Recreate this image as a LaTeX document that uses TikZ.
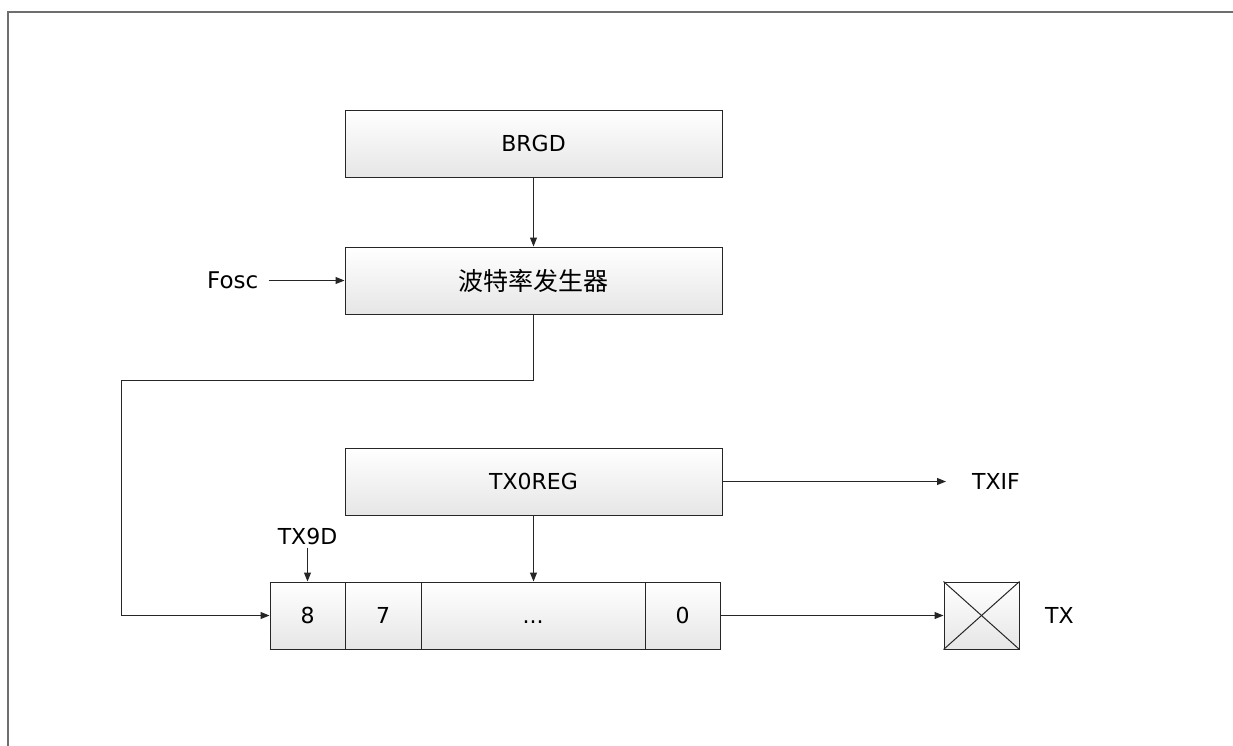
\documentclass[tikz,border=0pt]{standalone}
\usepackage{fontspec}
\setmainfont{DejaVu Sans}
\newfontfamily\cjk{Noto Sans CJK SC}
\usetikzlibrary{arrows.meta}
\definecolor{linec}{HTML}{262626}
\definecolor{framec}{HTML}{6E6E6E}
\definecolor{boxbot}{HTML}{E6E6E6}
\tikzset{
  lab/.style={font=\fontsize{22}{26}\selectfont, inner sep=2pt},
  blk/.style={draw=linec, line width=1pt, top color=white, bottom color=boxbot,
    minimum width=377pt, minimum height=67pt, inner sep=0pt,
    font=\fontsize{22}{26}\selectfont},
  cell/.style={draw=linec, line width=1pt, top color=white, bottom color=boxbot,
    minimum height=67pt, inner sep=0pt, font=\fontsize{22}{26}\selectfont},
  arr/.style={draw=linec, line width=1pt, -{Triangle[length=9pt,width=7pt]}},
  conn/.style={draw=linec, line width=1pt},
}
\begin{document}
\begin{tikzpicture}[x=1pt,y=-1pt]
\useasboundingbox (0,0) rectangle (1233,745);
% frame
\draw[framec, line width=2pt] (8,760) -- (8,12) -- (1250,12);
% blocks
\node[blk] (brgd) at (533.5,143.5) {BRGD};
\node[blk] (baud) at (533.5,280.5) {\cjk\fontsize{25}{28}\selectfont 波特率发生器};
\node[blk] (txreg) at (533.5,481.5) {TX0REG};
% register cells
\node[cell, minimum width=75pt] (c8) at (307.5,615.5) {8};
\node[cell, minimum width=76pt] (c7) at (383,615.5) {7};
\node[cell, minimum width=224pt] (cd) at (533,615.5) {\vphantom{0}{.}{.}{.}};
\node[cell, minimum width=75pt] (c0) at (682.5,615.5) {0};
% TX pin box
\node[cell, minimum width=75pt] (txbox) at (981.5,615.5) {};
\draw[conn] (txbox.north west) -- (txbox.south east);
\draw[conn] (txbox.north east) -- (txbox.south west);
% labels
\node[lab, anchor=east, font=\fontsize{23}{27}\selectfont] (fosc) at ([xshift=-84pt]baud.west) {Fosc};
\node[lab, anchor=west] (txif) at (970,481.5) {TXIF};
\node[lab] (tx9d) at (307.5,536) {TX9D};
\node[lab, anchor=west] (txl) at (1043,615.5) {TX};
% connectors
\coordinate (bendl) at (121,380);
\draw[arr] (brgd) -- (baud);
\draw[arr, shorten <=8pt] (fosc.east) -- (baud.west);
\draw[arr] (baud.south) |- (bendl) |- (c8.west);
\draw[arr, shorten >=24pt] (txreg.east) -- (txif.west);
\draw[arr] (txreg.south) -- (txreg.south |- cd.north);
\draw[arr, shorten <=1pt] (tx9d.south) -- (c8.north);
\draw[arr] (c0.east) -- (txbox.west);
\end{tikzpicture}
\end{document}
